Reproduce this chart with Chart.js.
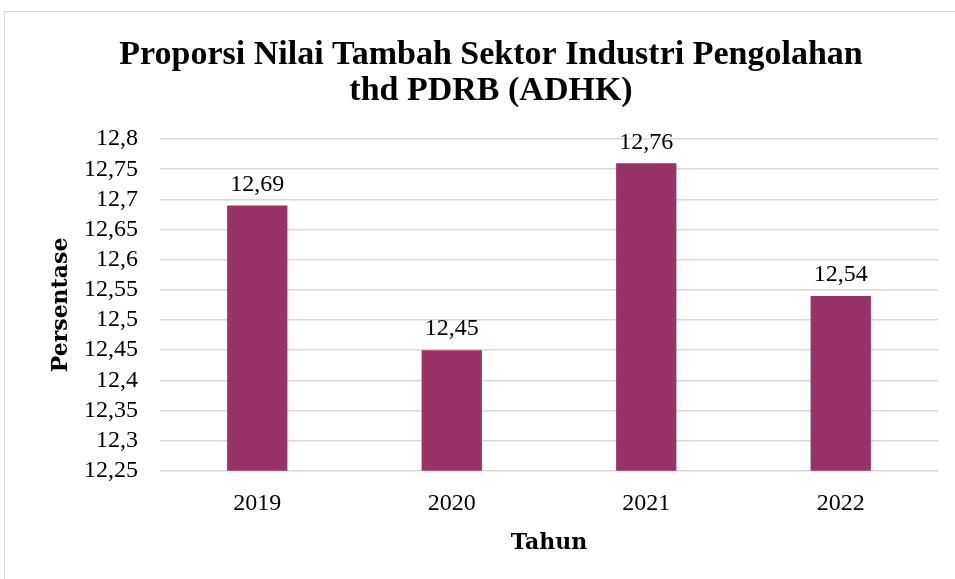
<!DOCTYPE html>
<html>
<head>
<meta charset="utf-8">
<script src="https://cdn.jsdelivr.net/npm/chart.js@4.4.1/dist/chart.umd.min.js"></script>
<style>
  html, body { margin: 0; padding: 0; background: #fff; overflow: hidden; }
  #wrap { position: relative; width: 955px; height: 579px; }
  #frame { position: absolute; left: 4px; top: 11px; width: 1000px; height: 700px; border: 1.5px solid #d9d9d9; box-sizing: border-box; }
  canvas { position: absolute; left: 0; top: 0; }
</style>
</head>
<body>
<div id="wrap">
  <div id="frame"></div>
  <canvas id="c" width="955" height="579"></canvas>
</div>
<script>
const categories = ["2019", "2020", "2021", "2022"];
const values = [12.69, 12.45, 12.76, 12.54];
const titleLines = ["Proporsi Nilai Tambah Sektor Industri Pengolahan", "thd PDRB (ADHK)"];
const yTitle = "Persentase";
const xTitle = "Tahun";
const yMin = 12.25, yMax = 12.8, yStep = 0.05;

const fmt = v => String(Number(v.toFixed(2))).replace('.', ',');

const labelPlugin = {
  id: 'barLabels',
  afterDatasetsDraw(chart) {
    const ctx = chart.ctx;
    const meta = chart.getDatasetMeta(0);
    ctx.save();
    ctx.font = '24px "Liberation Serif"';
    ctx.fillStyle = '#000';
    ctx.textAlign = 'center';
    ctx.textBaseline = 'middle';
    meta.data.forEach((bar, i) => {
      ctx.fillText(fmt(values[i]), bar.x, bar.y - 21);
    });
    ctx.restore();
  }
};

new Chart(document.getElementById('c'), {
  type: 'bar',
  data: {
    labels: categories,
    datasets: [{
      data: values,
      backgroundColor: '#993366',
      borderWidth: 0,
      barPercentage: 0.62,
      categoryPercentage: 0.5
    }]
  },
  options: {
    responsive: false,
    animation: false,
    layout: { padding: { left: 44, right: 17, top: 37, bottom: 19 } },
    plugins: {
      legend: { display: false },
      tooltip: { enabled: false },
      title: {
        display: true,
        text: titleLines,
        color: '#000',
        font: { family: '"Liberation Serif"', size: 34, weight: 'bold', lineHeight: 1.06 },
        padding: { top: 0, bottom: 30 }
      }
    },
    scales: {
      x: {
        grid: { display: false },
        border: { display: false },
        ticks: { color: '#000', font: { family: '"Liberation Serif"', size: 24 }, padding: 11 },
        title: { display: true, text: xTitle, color: '#000', font: { family: '"DejaVu Serif"', size: 22, weight: 'bold' }, padding: { top: 0 } }
      },
      y: {
        min: yMin, max: yMax,
        afterFit: s => { s.width = 116; },
        grid: { color: '#d9d9d9', lineWidth: 1.5, drawTicks: false },
        border: { display: false },
        ticks: {
          stepSize: yStep,
          autoSkip: false,
          color: '#000',
          font: { family: '"Liberation Serif"', size: 24, lineHeight: 1 },
          padding: 22,
          callback: v => fmt(v)
        },
        title: { display: true, text: yTitle, color: '#000', font: { family: '"DejaVu Serif"', size: 22, weight: 'bold' }, padding: { top: 4, bottom: 4 } }
      }
    }
  },
  plugins: [labelPlugin]
});
</script>
</body>
</html>
